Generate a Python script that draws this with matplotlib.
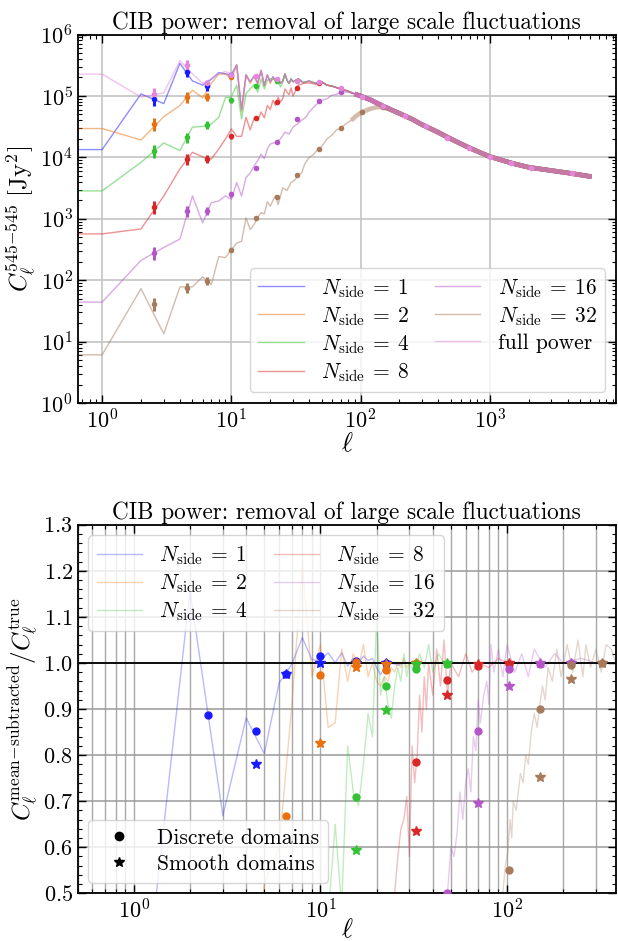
import numpy as np
import matplotlib.pyplot as plt
from matplotlib.ticker import LogLocator, MultipleLocator, NullFormatter

plt.rcParams.update({
    'font.family': 'serif',
    'font.serif': ['cmr10'],
    'mathtext.fontset': 'cm',
    'axes.formatter.use_mathtext': True,
    'axes.unicode_minus': False,
})

# ---------------- top panel: spectra ----------------
ell_full_lo = list(range(0, 31))
cl_full_lo = [2.27e5, 2.27e5, 9.6e4, 1.12e5, 3.75e5, 2.3e5, 1.6e5, 1.9e5, 2.3e5, 2.5e5,
              2.3e5, 3.2e5, 6.0e4, 2.2e5, 1.7e5, 2.1e5, 1.6e5, 2.6e5, 1.5e5, 2.2e5,
              1.7e5, 2.05e5, 1.8e5, 1.95e5, 1.6e5, 1.75e5, 2.3e5, 1.8e5, 1.6e5, 1.9e5, 1.7e5]
ell_full_hi = [33, 36, 40, 45, 50, 55, 60, 70, 80, 90, 100, 120, 150, 200, 250, 300,
               400, 500, 700, 1000, 1500, 2000, 3000, 4000, 5000, 6143]
cl_full_hi = [1.9e5, 1.65e5, 1.75e5, 1.6e5, 1.7e5, 1.5e5, 1.45e5, 1.3e5, 1.2e5, 1.08e5,
              1.0e5, 8.6e4, 6.8e4, 5.2e4, 4.2e4, 3.4e4, 2.55e4, 2.0e4, 1.42e4, 1.03e4,
              8.0e3, 6.9e3, 6.1e3, 5.6e3, 5.2e3, 4.85e3]

ell_n1 = list(range(0, 15))
cl_n1 = [1.34e4, 1.34e4, 1.08e5, 7.5e4, 3.4e5, 1.76e5, 1.5e5, 1.87e5, 2.4e5, 2.3e5,
         2.2e5, 3.2e5, 6.0e4, 2.2e5, 1.7e5]
ell_n2 = list(range(0, 23))
cl_n2 = [2.95e4, 2.95e4, 1.92e4, 4.6e4, 7.0e4, 1.24e5, 9.3e4, 1.6e5, 2.27e5, 2.27e5,
         1.9e5, 3.2e5, 5.5e4, 2.2e5, 1.6e5, 2.1e5, 1.6e5, 2.6e5, 1.45e5, 2.2e5,
         1.6e5, 1.95e5, 1.75e5]
ell_n4 = list(range(0, 29))
cl_n4 = [2.85e3, 2.85e3, 8.3e3, 1.72e4, 1.29e4, 3.1e4, 3.2e4, 3.5e4, 4.5e4, 9.4e4,
         9.6e4, 1.5e5, 4.2e4, 1.1e5, 1.3e5, 1.55e5, 1.15e5, 1.9e5, 1.3e5, 1.8e5,
         1.9e5, 1.9e5, 1.75e5, 1.75e5, 1.4e5, 1.65e5, 2.25e5, 1.75e5, 1.6e5]
ell_n8 = list(range(0, 31)) + [33, 36, 40, 45, 50]
cl_n8 = [5.68e2, 5.68e2, 6.85e2, 2.35e3, 6.5e3, 1.21e4, 1.02e4, 9.4e3, 1.37e4, 2.0e4,
         2.9e4, 2.2e4, 2.2e4, 4.5e4, 2.8e4, 4.3e4, 4.0e4, 5.5e4, 4.4e4, 7.0e4,
         6.0e4, 8.5e4, 7.0e4, 9.5e4, 8.0e4, 9.0e4, 1.3e5, 1.15e5, 1.05e5, 1.35e5,
         1.0e5, 1.5e5, 1.6e5, 1.63e5, 1.55e5, 1.7e5]
ell_n16 = list(range(0, 18)) + [18, 19, 20, 22, 24, 26, 28, 30, 33, 35, 38, 40, 45,
                                50, 55, 60, 65, 70, 80]
cl_n16 = [44, 44, 210, 342, 468, 2.36e3, 860, 1.83e3, 1.95e3, 2.36e3,
          2.08e3, 3.9e3, 2.35e3, 4.7e3, 5.6e3, 7.3e3, 8.8e3, 1.13e4,
          9.5e3, 1.37e4, 1.65e4, 1.76e4, 2.0e4, 2.57e4, 2.4e4, 3.1e4, 3.6e4, 4.0e4,
          4.6e4, 5.5e4, 7.1e4, 8.5e4, 9.0e4, 1.03e5, 1.05e5, 1.17e5, 1.15e5]
ell_n32 = list(range(0, 23)) + [23, 25, 27, 29, 31, 33, 35, 37, 40, 43, 46, 50, 55,
                                60, 65, 70, 78, 85, 92, 100, 110, 120, 135, 150, 170]
cl_n32 = [6.1, 6.1, 73, 13.4, 78, 78, 114, 85, 243, 234,
          313, 403, 430, 1.04e3, 668, 807, 1.06e3, 1.26e3, 1.2e3, 1.9e3,
          1.6e3, 2.0e3, 2.4e3, 1.7e3, 3.2e3, 2.9e3, 3.9e3, 4.3e3, 5.1e3, 5.6e3,
          7.8e3, 1.0e4, 1.1e4, 1.3e4, 1.5e4, 2.0e4, 2.3e4, 2.8e4, 3.0e4, 3.6e4,
          4.0e4, 4.7e4, 5.3e4, 5.8e4, 6.2e4, 6.6e4, 6.5e4, 6.0e4]

# binned band powers
ell_bins = [2.5, 4.5, 6.5, 10, 15.5, 22.5, 32.5, 47.5, 70, 103, 150, 220, 322, 470,
            685, 1000, 1450, 2100, 4340]
frac_err = [0.24, 0.19, 0.15, 0.09, 0.06, 0.05, 0.04, 0.03, 0.025, 0.02, 0.015, 0.012,
            0.01, 0.008, 0.006, 0.005, 0.004, 0.003, 0.002]
bp_full = [1.09e5, 3.2e5, 1.6e5, 2.2e5, 2.1e5, 1.89e5, 1.75e5, 1.7e5, 1.33e5, 9.7e4,
           6.8e4, 4.8e4, 3.2e4, 2.1e4, 1.44e4, 1.03e4, 8.1e3, 6.8e3, 5.5e3]
bp_n1 = [9.0e4, 2.5e5, 1.44e5, 2.2e5]
bp_n2 = [3.5e4, 9.6e4, 9.6e4, 2.05e5]
bp_n4 = [1.29e4, 2.13e4, 3.4e4, 8.5e4, 1.47e5, 1.77e5]
bp_n8 = [1.55e3, 9.4e3, 9.4e3, 2.2e4, 4.3e4, 8.0e4, 1.36e5, 1.6e5]
bp_n16 = [276, 1.34e3, 1.34e3, 2.5e3, 6.8e3, 1.76e4, 4.15e4, 8.3e4, 1.17e5]
bp_n32 = [41.6, 76, 98, 313, 1.03e3, 2.28e3, 5.1e3, 1.37e4, 3.0e4, 5.5e4, 6.5e4]

# ---------------- bottom panel: ratios ----------------
ell_r1 = list(range(1, 25)) + [26, 28, 30, 35, 40]
r_n1 = [0.06, 1.157, 0.668, 0.881, 0.803, 0.956, 0.996, 1.055, 1.007, 1.005,
        1.022, 1.0, 1.022, 0.993, 1.01, 1.0, 1.015, 1.005, 1.01, 0.99,
        0.975, 0.99, 0.995, 1.0, 0.995, 1.0, 1.0, 1.0, 1.0]
ell_r2 = list(range(1, 31)) + [32, 35, 40]
r_n2 = [0.13, 0.2, 0.41, 0.19, 0.52, 0.6, 0.9, 1.21, 0.97, 1.04,
        0.86, 0.87, 1.03, 0.96, 1.02, 0.99, 1.04, 0.97, 1.0, 0.96,
        0.95, 0.97, 0.96, 0.99, 0.98, 1.0, 0.99, 1.01, 0.99, 1.0, 1.0, 1.0, 1.0]
ell_r4 = list(range(1, 31)) + [32, 34, 36, 38, 40, 43, 46, 50, 55]
r_n4 = [0.013, 0.086, 0.15, 0.034, 0.13, 0.2, 0.18, 0.2, 0.38, 0.42,
        0.45, 0.65, 0.47, 0.82, 0.72, 0.69, 0.78, 0.89, 0.84, 1.10,
        0.93, 0.97, 0.91, 0.88, 0.95, 0.99, 0.96, 1.02, 0.97, 1.0,
        0.98, 1.02, 0.99, 1.04, 0.98, 1.02, 1.0, 1.0, 1.0]
ell_r8 = [20, 22, 24, 25, 26, 27, 28, 29, 30, 31, 32, 33, 34, 35, 36, 37, 38, 40, 42,
          44, 46, 48, 50, 55, 60, 65, 70, 80, 90, 100, 120]
r_n8 = [0.3, 0.36, 0.44, 0.5, 0.58, 0.64, 0.66, 0.71, 0.58, 0.82, 0.74, 0.80, 0.93,
        0.85, 0.97, 0.9, 1.0, 0.93, 1.03, 0.95, 1.05, 0.93, 1.0, 0.97, 1.02, 0.98,
        1.0, 0.99, 1.01, 1.0, 1.0]
ell_r16 = [40, 48, 50, 52, 54, 56, 58, 60, 62, 64, 66, 68, 70, 72, 75, 78, 80, 82, 85,
           90, 95, 100, 110, 120, 130, 140, 160, 180, 200, 250, 300, 383]
r_n16 = [0.3, 0.5, 0.6, 0.58, 0.63, 0.72, 0.66, 0.74, 0.77, 0.72, 0.84, 0.81, 0.92,
         0.87, 0.93, 0.96, 0.91, 1.04, 0.98, 1.03, 0.97, 1.04, 0.98, 1.02, 0.97,
         1.03, 0.99, 1.02, 1.0, 1.01, 1.0, 1.0]
ell_r32 = [90, 95, 98, 101, 104, 106, 108, 112, 115, 118, 122, 126, 130, 135, 140,
           145, 150, 155, 160, 166, 175, 185, 195, 210, 225, 240, 255, 265, 280, 300,
           320, 340, 362, 383]
r_n32 = [0.35, 0.5, 0.56, 0.59, 0.66, 0.62, 0.70, 0.68, 0.72, 0.76, 0.74, 0.80, 0.78,
         0.85, 0.89, 0.86, 0.91, 0.95, 0.92, 0.99, 0.96, 1.03, 0.97, 1.04, 0.98, 1.05,
         0.97, 1.04, 0.99, 1.03, 0.98, 1.04, 1.03, 1.0]

# binned ratios: discrete (dots) and smooth (stars) domains
ell_rb = [2.5, 4.5, 6.5, 10, 15.5, 22.5, 32.5, 47.5, 70, 103, 150, 220, 322]
nan = np.nan
disc_n1 = [0.888, 0.853, 0.975, 1.016, 1.004, 1.0]
smooth_n1 = [nan, 0.781, 0.976, 1.0, 1.0, 1.0]
disc_n2 = [nan, nan, 0.668, 0.974, 1.002, 0.985, 1.0]
smooth_n2 = [nan, nan, nan, 0.826, 0.991, 0.998, 1.0]
disc_n4 = [nan, nan, nan, nan, 0.708, 0.949, 0.987, 0.998]
smooth_n4 = [nan, nan, nan, nan, 0.595, 0.897, 0.998, 1.0]
disc_n8 = [nan] * 6 + [0.785, 0.963, 0.993, 0.998]
smooth_n8 = [nan] * 6 + [0.635, 0.931, 0.998, 1.0]
disc_n16 = [nan] * 7 + [0.5, 0.853, 0.987, 0.998, 1.0]
smooth_n16 = [nan] * 7 + [nan, 0.697, 0.950, 1.0, 1.0]
disc_n32 = [nan] * 9 + [0.550, 0.900, 0.996, 1.0]
smooth_n32 = [nan] * 9 + [nan, 0.753, 0.966, 1.0]

nsides = [1, 2, 4, 8, 16, 32]
colors = ['#1a1aff', '#e8700e', '#33c233', '#d92626', '#b455c8', '#a87a5c']
col_full = '#e386dc'

spectra = [(ell_n1, cl_n1), (ell_n2, cl_n2), (ell_n4, cl_n4), (ell_n8, cl_n8),
           (ell_n16, cl_n16), (ell_n32, cl_n32)]
bandpowers = [bp_n1, bp_n2, bp_n4, bp_n8, bp_n16, bp_n32]
ratios = [(ell_r1, r_n1), (ell_r2, r_n2), (ell_r4, r_n4), (ell_r8, r_n8),
          (ell_r16, r_n16), (ell_r32, r_n32)]
disc = [disc_n1, disc_n2, disc_n4, disc_n8, disc_n16, disc_n32]
smooth = [smooth_n1, smooth_n2, smooth_n4, smooth_n8, smooth_n16, smooth_n32]

ell_full = np.array(ell_full_lo + ell_full_hi)
cl_full = np.array(cl_full_lo + cl_full_hi)
ELL_THICK = 90  # above this the spectra scatter into a dense band


def with_tail(ell, cl):
    # past its last own multipole each map follows the full-sky spectrum
    keep = ell_full > ell[-1]
    return np.r_[ell, ell_full[keep]], np.r_[cl, cl_full[keep]]


def draw_spectrum(ax, ell, cl, color, label):
    ell = np.asarray(ell)
    cl = np.asarray(cl)
    lo = ell <= ELL_THICK
    ax.plot(ell[lo], cl[lo], color=color, alpha=0.5, lw=1.0, label=label)
    hi = ell >= ell[lo][-1]
    ax.plot(ell[hi], cl[hi], color=color, alpha=0.5, lw=3.3, solid_capstyle='butt')


def nside_label(n):
    return r'$N_{\rm side}\:=\:%d$' % n


fig, (ax1, ax2) = plt.subplots(2, 1, figsize=(6.18, 9.41), dpi=100)
fig.subplots_adjust(left=0.1257, right=0.9968, top=0.9633, bottom=0.0507, hspace=0.33)

for (ell, cl), c, n in zip(spectra, colors, nsides):
    e, v = with_tail(ell, cl)
    draw_spectrum(ax1, e, v, c, nside_label(n))
draw_spectrum(ax1, ell_full, cl_full, col_full, 'full power')

for bp, c in zip(bandpowers + [bp_full], colors + [col_full]):
    bp = np.asarray(bp)
    e = np.asarray(ell_bins[:len(bp)])
    err = bp * np.asarray(frac_err[:len(bp)])
    ax1.errorbar(e, bp, yerr=err, fmt='o', color=c, ms=3, elinewidth=2.2,
                 capsize=0, zorder=5)

title = 'CIB power: removal of large scale fluctuations'
ax1.set_xscale('log')
ax1.set_yscale('log')
ax1.set_ylim(1, 1e6)
ax1.set_xlim(0.647, 9490)
ax1.set_xlabel(r'$\ell$', fontsize=19, labelpad=0)
ax1.set_ylabel(r'$C_\ell^{545{-}545}\ [\mathrm{Jy}^2]$', fontsize=18, labelpad=2)
ax1.set_title(title, fontsize=16.7, pad=4)
ax1.grid(True, which='major', color='#c4c4c4', lw=1.2)
ax1.legend(loc='lower right', ncol=2, fontsize=15.5, handlelength=2.1,
           columnspacing=1.2, labelspacing=0.25, borderpad=0.4)

# bottom panel
for (ell, r), c, n in zip(ratios, colors, nsides):
    ax2.plot(ell, r, color=c, alpha=0.3, lw=1.0, label=nside_label(n))
ax2.axhline(1.0, color='k', lw=1.3, zorder=3)
for d, s, c in zip(disc, smooth, colors):
    ax2.plot(ell_rb[:len(d)], d, 'o', color=c, ms=5, zorder=5)
    ax2.plot(ell_rb[:len(s)], s, '*', color=c, ms=7.5, zorder=5)

ax2.set_xscale('log')
ax2.set_xlim(0.5, 384)
ax2.set_ylim(0.5, 1.3)
ax2.yaxis.set_major_locator(MultipleLocator(0.1))
ax2.yaxis.set_minor_locator(MultipleLocator(0.02))
ax2.grid(True, which='major', axis='y', color='#9a9a9a', lw=1.1)
ax2.grid(True, which='both', axis='x', color='#a8a8a8', lw=1.0)
ax2.set_xlabel(r'$\ell$', fontsize=19, labelpad=-3)
ax2.set_ylabel(r'$C_\ell^{\rm mean{-}subtracted}/C_\ell^{\rm true}$', fontsize=18,
               labelpad=2)
ax2.set_title(title, fontsize=16.7, pad=4)

leg1 = ax2.legend(loc='upper left', ncol=2, fontsize=15.5, handlelength=2.1,
                  columnspacing=1.2, labelspacing=0.25, borderpad=0.4)
ax2.add_artist(leg1)
h_disc, = ax2.plot([], [], 'o', color='k', ms=6)
h_smooth, = ax2.plot([], [], '*', color='k', ms=7.5)
ax2.legend([h_disc, h_smooth], ['Discrete domains', 'Smooth domains'], loc='lower left',
           fontsize=15.5, labelspacing=0.3, borderpad=0.4)

for ax in (ax1, ax2):
    ax.tick_params(which='both', direction='in', top=True, right=True, labelsize=16)
    ax.tick_params(which='major', length=6, width=1.0)
    ax.tick_params(which='minor', length=3, width=0.8)
    ax.xaxis.set_minor_locator(LogLocator(base=10, subs=np.arange(2, 10), numticks=20))
    ax.xaxis.set_minor_formatter(NullFormatter())
    for sp in ax.spines.values():
        sp.set_linewidth(1.3)
ax1.yaxis.set_minor_locator(LogLocator(base=10, subs=np.arange(2, 10), numticks=20))
ax1.yaxis.set_major_locator(LogLocator(base=10, numticks=10))

fig.savefig('out.png', dpi=100)
